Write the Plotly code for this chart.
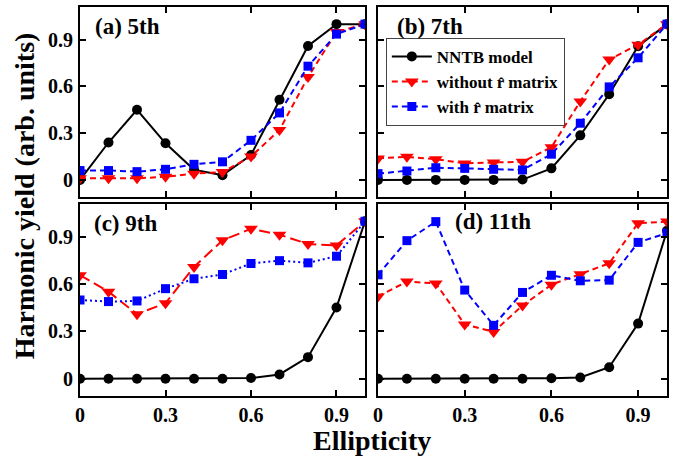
import plotly.graph_objects as go

ellipticity = [0, 0.1, 0.2, 0.3, 0.4, 0.5, 0.6, 0.7, 0.8, 0.9, 1.0]

# (a) 5th harmonic
h5_nntb = [0.0, 0.24, 0.45, 0.235, 0.065, 0.03, 0.16, 0.515, 0.86, 1.0, 1.0]
h5_without = [0.01, 0.01, 0.01, 0.02, 0.04, 0.05, 0.15, 0.32, 0.66, 0.95, 1.0]
h5_with = [0.06, 0.06, 0.053, 0.068, 0.10, 0.116, 0.254, 0.43, 0.73, 0.936, 1.0]

# (b) 7th harmonic
h7_nntb = [0.0, 0.0, 0.0, 0.0, 0.0, 0.002, 0.074, 0.286, 0.55, 0.858, 1.0]
h7_without = [0.138, 0.148, 0.133, 0.106, 0.112, 0.116, 0.21, 0.504, 0.773, 0.868, 1.0]
h7_with = [0.04, 0.057, 0.078, 0.074, 0.068, 0.064, 0.165, 0.364, 0.597, 0.784, 1.0]

# (c) 9th harmonic
h9_nntb = [0.0, 0.0, 0.0, 0.0, 0.0, 0.0, 0.004, 0.027, 0.137, 0.452, 1.0]
h9_without = [0.658, 0.553, 0.41, 0.48, 0.71, 0.879, 0.952, 0.915, 0.856, 0.847, 1.0]
h9_with = [0.50, 0.49, 0.494, 0.572, 0.635, 0.662, 0.732, 0.75, 0.736, 0.778, 1.0]

# (d) 11th harmonic
h11_nntb = [0.0, 0.0, 0.0, 0.0, 0.0, 0.0, 0.003, 0.008, 0.073, 0.35, 0.94]
h11_without = [0.523, 0.617, 0.605, 0.345, 0.297, 0.465, 0.597, 0.663, 0.733, 0.988, 0.998]
h11_with = [0.66, 0.877, 0.998, 0.563, 0.339, 0.548, 0.657, 0.622, 0.626, 0.866, 0.925]

panel_labels = ["(a) 5th", "(b) 7th", "(c) 9th", "(d) 11th"]
series_names = ["NNTB model", "without r\u0302 matrix", "with r\u0302 matrix"]
tick_vals = [0, 0.3, 0.6, 0.9]
tick_text = ["0", "0.3", "0.6", "0.9"]

panels = [
    (h5_nntb, h5_without, h5_with),
    (h7_nntb, h7_without, h7_with),
    (h9_nntb, h9_without, h9_with),
    (h11_nntb, h11_without, h11_with),
]

FONT = "Liberation Serif"
fig = go.Figure()

x_domains = [[0, 0.4855], [0.5077, 1.0], [0, 0.4855], [0.5077, 1.0]]
y_domains = [[0.5115, 1.0], [0.5115, 1.0], [0, 0.4936], [0, 0.4936]]

for i, (nntb, without, withr) in enumerate(panels):
    n = i + 1
    xa = "x" if n == 1 else f"x{n}"
    ya = "y" if n == 1 else f"y{n}"
    show = (i == 0)
    if i == 2:
        red_dash, blue_dash = "11px,5px", "2px,3px"
    else:
        red_dash, blue_dash = "6px,4px", "6px,4px"
    fig.add_trace(go.Scatter(x=ellipticity, y=nntb, mode="lines+markers", name=series_names[0],
                             legendgroup="a", showlegend=show, xaxis=xa, yaxis=ya,
                             line=dict(color="black", width=2),
                             marker=dict(symbol="circle", size=10, color="black")))
    fig.add_trace(go.Scatter(x=ellipticity, y=without, mode="lines+markers", name=series_names[1],
                             legendgroup="b", showlegend=show, xaxis=xa, yaxis=ya,
                             line=dict(color="#ff0000", width=2, dash=red_dash),
                             marker=dict(symbol="triangle-down", size=12, color="#ff0000")))
    fig.add_trace(go.Scatter(x=ellipticity, y=withr, mode="lines+markers", name=series_names[2],
                             legendgroup="c", showlegend=show, xaxis=xa, yaxis=ya,
                             line=dict(color="#0000ff", width=2, dash=blue_dash),
                             marker=dict(symbol="square", size=9, color="#0000ff")))

axis_common = dict(showline=True, linecolor="black", linewidth=2, mirror="ticks",
                   ticks="inside", ticklen=6, tickwidth=2, tickcolor="black",
                   showgrid=False, zeroline=False,
                   tickfont=dict(family=FONT, size=20, color="black", weight="bold"))

layout = dict(
    width=680, height=457,
    margin=dict(l=80, r=13, t=5, b=61),
    plot_bgcolor="white", paper_bgcolor="white",
    showlegend=True,
    legend=dict(x=0.521, y=0.9207, xanchor="left", yanchor="top",
                bgcolor="white", bordercolor="#444444", borderwidth=1,
                font=dict(family=FONT, size=17, color="black", weight="bold"),
                tracegroupgap=0, itemwidth=40),
)

for i in range(4):
    n = i + 1
    xkey = "xaxis" if n == 1 else f"xaxis{n}"
    ykey = "yaxis" if n == 1 else f"yaxis{n}"
    ya = "y" if n == 1 else f"y{n}"
    xa = "x" if n == 1 else f"x{n}"
    layout[xkey] = dict(axis_common, domain=x_domains[i], anchor=ya, range=[0, 1],
                        tickvals=tick_vals, ticktext=tick_text,
                        showticklabels=(i >= 2), ticklabelstandoff=0)
    layout[ykey] = dict(axis_common, domain=y_domains[i], anchor=xa, range=[-0.11, 1.11],
                        tickvals=tick_vals, ticktext=tick_text,
                        showticklabels=(i % 2 == 0), ticklabelstandoff=1)

fig.update_layout(**layout)

label_pos = [(0.046, 0.895), (0.059, 0.895), (0.042, 0.90), (0.259, 0.91)]
for i, (lx, ly) in enumerate(label_pos):
    n = i + 1
    xa = "x" if n == 1 else f"x{n}"
    ya = "y" if n == 1 else f"y{n}"
    fig.add_annotation(text=panel_labels[i], xref=f"{xa} domain", yref=f"{ya} domain",
                       x=lx, y=ly, xanchor="left", yanchor="middle", showarrow=False,
                       font=dict(family=FONT, size=23, color="black", weight="bold"))

fig.add_annotation(text="Harmonic yield (arb. units)", xref="paper", yref="paper",
                   x=-0.095, y=0.514, xanchor="center", yanchor="middle", textangle=-90,
                   showarrow=False, font=dict(family=FONT, size=28, color="black", weight="bold"))
fig.add_annotation(text="Ellipticity", xref="paper", yref="paper",
                   x=0.497, y=-0.115, xanchor="center", yanchor="middle",
                   showarrow=False, font=dict(family=FONT, size=28, color="black", weight="bold"))

fig.write_html("out.html", config={"displayModeBar": False},
               post_script="document.body.style.margin='0';document.body.style.padding='0';")
